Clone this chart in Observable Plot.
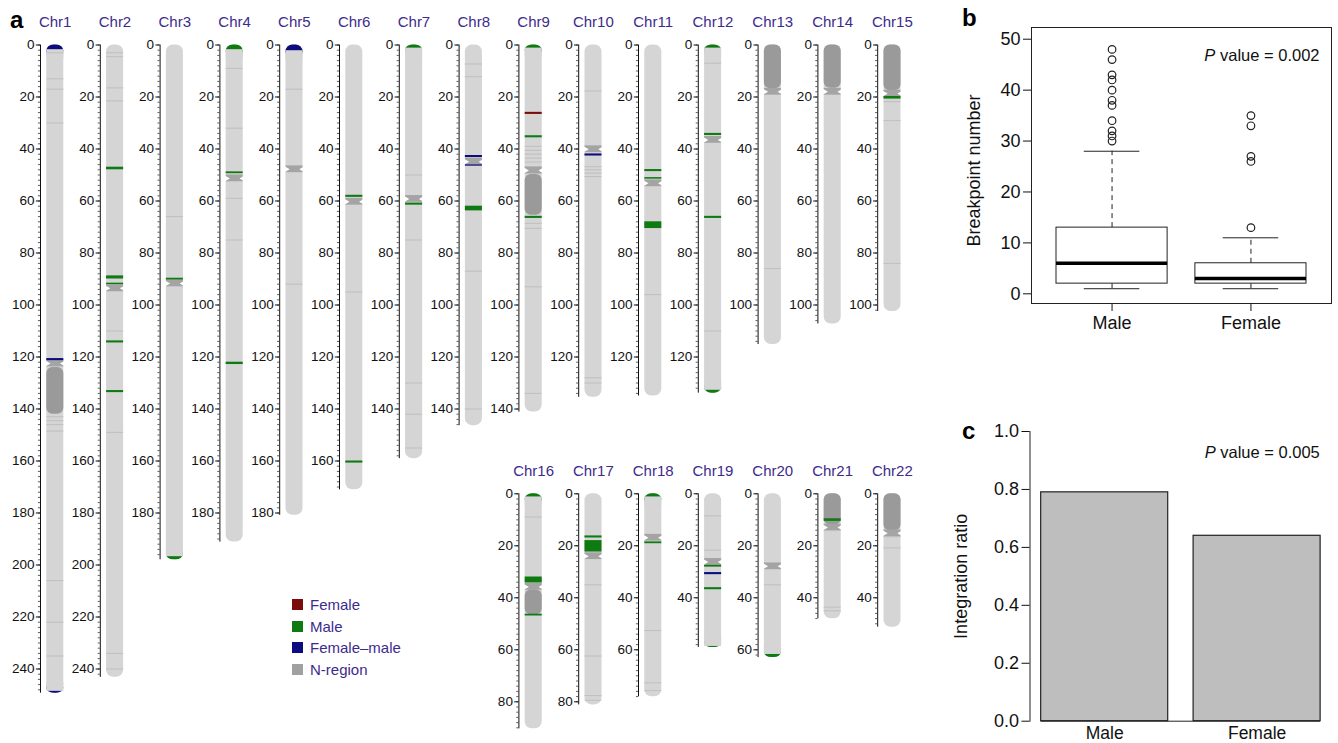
<!DOCTYPE html>
<html>
<head>
<meta charset="utf-8">
<script src="https://cdn.jsdelivr.net/npm/d3@7"></script>
<script src="https://cdn.jsdelivr.net/npm/@observablehq/plot@0.6"></script>
<style>
  html, body { margin: 0; padding: 0; background: #fff; }
  #page { position: relative; width: 1338px; height: 743px; overflow: hidden; background: #fff;
          font-family: "Liberation Sans", Arial, Helvetica, sans-serif; }
  .layer { position: absolute; }
  .layer svg { max-width: none !important; }
  .letter { position: absolute; font-weight: bold; font-size: 24px; color: #000; line-height: 1; }
  #legend { position: absolute; left: 292px; top: 594px; font-size: 15px; color: #3d2b8c; }
  #legend .row { display: flex; align-items: center; height: 21.5px; }
  #legend .sw { width: 11px; height: 11px; margin-right: 7px; }
</style>
</head>
<body>
<div id="page">
  <div class="letter" style="left:10px;top:8px;">a</div>
  <div class="letter" style="left:962px;top:6px;">b</div>
  <div class="letter" style="left:962px;top:419px;">c</div>
  <div id="legend"></div>
</div>
<script>
// ---------------- Panel a data ----------------
const chromNames = ["Chr1","Chr2","Chr3","Chr4","Chr5","Chr6","Chr7","Chr8","Chr9","Chr10","Chr11",
  "Chr12","Chr13","Chr14","Chr15","Chr16","Chr17","Chr18","Chr19","Chr20","Chr21","Chr22"];
const chromLengths = [249.3, 243.2, 198.0, 191.2, 180.9, 171.1, 159.1, 146.4, 141.2, 135.5, 135.0,
  133.9, 115.2, 107.3, 102.5, 90.4, 81.2, 78.1, 59.1, 63.0, 48.1, 51.3];
const centromeres = [122.5, 93.6, 91.7, 51.3, 47.8, 60.3, 59.2, 44.9, 48.3, 40.1, 53.2,
  36.5, 18.0, 18.0, 18.7, 35.8, 24.0, 16.9, 26.2, 27.9, 13.0, 15.2];
// N-regions (dark grey): [chromosome, start Mb, end Mb]
const nRegions = [[1,124.0,142.0],[9,49.8,65.5],[13,0,16.8],[14,0,16.6],[15,0,17.6],
  [16,37.0,46.5],[21,0,12.0],[22,0,14.2]];
// faint grey gap lines: [chromosome, Mb]
const faintLines = [[1,3],[1,13],[1,17],[1,30],[1,143],[1,144.5],[1,146],[1,148.5],[1,206],[1,222],[1,235],
  [2,3],[2,4.5],[2,16.5],[2,21.5],[2,110],[2,149],[2,234],[2,240],
  [3,66],[4,9],[4,32],[4,59],[4,75],[5,17],[5,92],[6,95],
  [7,50],[7,75],[7,130],[7,142],[7,155],[8,7.3],[8,12.2],[8,87],[8,140],
  [9,39],[9,40.5],[9,42],[9,43.5],[9,45],[9,46.8],[9,68.6],[9,70.5],[9,93],[9,134],
  [10,17.7],[10,46.8],[10,48],[10,49.3],[10,50.6],[10,128],[10,130],
  [11,96],[12,7],[12,110],[13,86],[15,21.8],[15,29.1],[15,84],
  [16,8.9],[17,35],[17,62.4],[17,77.6],[17,79.4],[18,52.6],[18,72.7],[18,75.7],
  [19,8.5],[19,21.7],[20,35],[21,43.6],[21,45],[22,16.5],[22,20.8]];
// breakpoint events: [chromosome, start Mb, end Mb, type]
const breakEvents = [
  [1,0,1.8,"Female-male"],[1,120.6,121.4,"Female-male"],[1,248.6,249.3,"Female-male"],
  [2,47.0,48.0,"Male"],[2,88.8,90.0,"Male"],[2,91.6,92.2,"Male"],[2,113.8,114.6,"Male"],[2,132.9,133.7,"Male"],
  [3,89.7,90.4,"Male"],[3,196.8,198.0,"Male"],
  [4,0,1.8,"Male"],[4,48.8,49.5,"Male"],[4,122.0,122.9,"Male"],
  [5,0,2.2,"Female-male"],
  [6,57.8,58.6,"Male"],[6,160.0,160.8,"Male"],
  [7,0,1.2,"Male"],[7,60.8,61.6,"Male"],
  [8,42.5,43.3,"Female-male"],[8,46.1,46.6,"Female-male"],[8,62.0,63.8,"Male"],
  [9,0,1.2,"Male"],[9,25.9,26.7,"Female"],[9,34.9,35.7,"Male"],[9,65.9,66.7,"Male"],
  [10,41.9,42.7,"Female-male"],
  [11,47.9,48.7,"Male"],[11,51.0,51.6,"Male"],[11,68.0,70.6,"Male"],
  [12,0,1.2,"Male"],[12,34.0,34.8,"Male"],[12,65.9,66.7,"Male"],[12,132.8,133.9,"Male"],
  [15,19.8,20.8,"Male"],
  [16,0,1.2,"Male"],[16,32.0,34.3,"Male"],[16,46.3,47.0,"Male"],
  [17,16.2,17.0,"Male"],[17,18.0,22.4,"Male"],
  [18,0,1.2,"Male"],[18,18.5,19.2,"Male"],
  [19,27.5,28.2,"Male"],[19,30.3,31.1,"Female-male"],[19,36.1,36.9,"Male"],[19,58.7,59.1,"Male"],
  [20,61.8,63.0,"Male"],
  [21,9.6,10.6,"Male"]
];
const eventTypes = ["Female","Male","Female-male"];
const eventColors = ["#7a0c0c","#0f7a12","#0c0c7e"];
const legendLabels = ["Female","Male","Female\u2013male","N-region"];
const legendColors = ["#7a0c0c","#0f7a12","#0c0c7e","#a0a0a0"];
const topRowChroms = [1,2,3,4,5,6,7,8,9,10,11,12,13,14,15];
const bottomRowChroms = [16,17,18,19,20,21,22];

// ---------------- Panel b data ----------------
const boxGroups = ["Male","Female"];
const boxLow = [1, 1];
const boxQ1 = [2, 2];
const boxMedian = [6, 3];
const boxQ3 = [13, 6];
const boxHigh = [28, 11];
const maleOutliers = [30, 31, 32, 34, 37, 38, 40, 42, 43, 46, 48];
const femaleOutliers = [13, 26, 27, 33, 35];
const pValueB = "P value = 0.002";

// ---------------- Panel c data ----------------
const barGroups = ["Male","Female"];
const barValues = [0.79, 0.64];
const pValueC = "P value = 0.005";

// ---------------- drawing ----------------
const FONT = '"Liberation Sans", Arial, Helvetica, sans-serif';
const PURPLE = "#3d2b8c";
const BODY = "#d5d5d5";
const page = document.getElementById("page");
function place(svg, left, top, w, h) {
  const d = document.createElement("div");
  d.className = "layer";
  d.style.left = left + "px"; d.style.top = top + "px";
  d.style.width = w + "px"; d.style.height = h + "px";
  d.appendChild(svg);
  page.appendChild(d);
}

const BX1 = 0.105, BX2 = 0.39, CAPX = 3; // cap rounding extension in Mb
function chromRow(list, firstCol, y0) {
  const colOf = new Map(list.map((c, k) => [c, firstCol + k]));
  const chroms = list.map(c => ({name: chromNames[c-1], len: chromLengths[c-1], cen: centromeres[c-1], col: colOf.get(c)}));
  const minor = chroms.flatMap(d => d3.range(0, d.len, 2).map(v => ({col: d.col, v})));
  const major = chroms.flatMap(d => d3.range(0, d.len + 0.001, 20).map(v => ({col: d.col, v})));
  const nreg = nRegions.filter(r => colOf.has(r[0])).map(r => ({col: colOf.get(r[0]), s: r[1], e: r[2]}));
  const faint = faintLines.filter(r => colOf.has(r[0])).map(r => ({col: colOf.get(r[0]), v: r[1]}));
  const ev = breakEvents.filter(r => colOf.has(r[0])).map(r => ({col: colOf.get(r[0]), s: r[1], e: r[2], type: r[3],
    top: r[1] === 0, bottom: r[2] >= chromLengths[r[0]-1] - 0.01}));
  const caps = ev.filter(d => d.top || d.bottom).map(d => ({...d,
    es: d.top ? d.s : d.s - CAPX, ee: d.top ? d.e + CAPX : d.e,
    cs: d.top ? d.e : d.s - CAPX - 0.5, ce: d.top ? d.e + CAPX + 0.5 : d.s}));
  const xb1 = d => d.col + BX1, xb2 = d => d.col + BX2;
  return Plot.plot({
    width: 940, height: 743, margin: 0,
    style: {background: "transparent", fontFamily: FONT, overflow: "visible"},
    x: {type: "linear", domain: [0, 1], range: [40, 99.8], axis: null},
    y: {type: "linear", domain: [0, 100], range: [y0, y0 + 260], axis: null},
    color: {domain: eventTypes, range: eventColors},
    marks: [
      Plot.ruleX(chroms, {x: "col", y1: 0, y2: "len", stroke: "#111", strokeWidth: 1}),
      Plot.ruleY(minor, {y: "v", x1: "col", x2: d => d.col - 0.035, stroke: "#333", strokeWidth: 0.8}),
      Plot.ruleY(major, {y: "v", x1: "col", x2: d => d.col - 0.07, stroke: "#111", strokeWidth: 1}),
      Plot.text(major, {x: "col", y: "v", text: d => String(d.v), textAnchor: "end", dx: -6, fontSize: 13.5, fill: "#111"}),
      Plot.rect(chroms, {x1: xb1, x2: xb2, y1: 0, y2: "len", fill: BODY, rx: 7}),
      // end caps: rounded coloured block, its inner part covered again with body colour
      Plot.rect(caps, {x1: xb1, x2: xb2, y1: "es", y2: "ee", fill: "type", rx: 7}),
      Plot.rect(caps, {x1: xb1, x2: xb2, y1: "cs", y2: "ce", fill: BODY}),
      Plot.ruleY(faint, {y: "v", x1: xb1, x2: xb2, stroke: "#bcbcbc", strokeWidth: 0.9}),
      Plot.rect(nreg, {x1: xb1, x2: xb2, y1: "s", y2: "e", fill: "#9a9a9a", rx: 6}),
      Plot.rect(chroms, {x1: xb1, x2: xb2, y1: d => d.cen - 1.3, y2: d => d.cen + 1.3, fill: "#a4a4a4"}),
      Plot.dot(chroms, {x: xb1, y: "cen", symbol: "triangle", rotate: 90, r: 2.4, fill: "white"}),
      Plot.dot(chroms, {x: xb2, y: "cen", symbol: "triangle", rotate: -90, r: 2.4, fill: "white"}),
      Plot.rect(ev.filter(d => !d.top && !d.bottom), {x1: xb1, x2: xb2, y1: "s", y2: "e", fill: "type"}),
      Plot.text(chroms, {x: d => d.col + 0.245, y: 0, dy: -23, text: "name", fill: PURPLE, fontSize: 15})
    ]
  });
}
place(chromRow(topRowChroms, 0, 44.5), 0, 0, 940, 743);
place(chromRow(bottomRowChroms, 8, 493.3), 0, 0, 940, 743);

// legend
const legend = document.getElementById("legend");
legendLabels.forEach((lab, i) => {
  const row = document.createElement("div"); row.className = "row";
  const sw = document.createElement("div"); sw.className = "sw"; sw.style.background = legendColors[i];
  const tx = document.createElement("span"); tx.textContent = lab;
  row.append(sw, tx); legend.appendChild(row);
});

function italicP(svg) {
  svg.querySelectorAll("text").forEach(t => {
    if (t.textContent.startsWith("P value")) {
      const rest = t.textContent.slice(1);
      const target = t.querySelector("tspan") || t;
      target.textContent = "";
      const ns = "http://www.w3.org/2000/svg";
      const a = document.createElementNS(ns, "tspan"); a.setAttribute("font-style", "italic"); a.textContent = "P";
      const b = document.createElementNS(ns, "tspan"); b.textContent = rest;
      target.append(a, b);
    }
  });
  return svg;
}

// Panel b: boxplot
const boxStats = boxGroups.map((g, i) => ({g: i + 1, lo: boxLow[i], q1: boxQ1[i], med: boxMedian[i], q3: boxQ3[i], hi: boxHigh[i]}));
const outliers = [...maleOutliers.map(v => ({g: 1, v})), ...femaleOutliers.map(v => ({g: 2, v}))];
const plotB = Plot.plot({
  width: 398, height: 345, marginLeft: 91, marginRight: 7, marginTop: 27, marginBottom: 42,
  style: {background: "transparent", fontFamily: FONT, fontSize: "18px", color: "#111"},
  x: {type: "linear", domain: [0.42, 2.58]},
  y: {type: "linear", domain: [-1.9, 52.3]},
  marks: [
    Plot.frame({stroke: "#222", strokeWidth: 1}),
    Plot.axisY({ticks: [0, 10, 20, 30, 40, 50], tickSize: 8, tickPadding: 3, label: null, tickFormat: d => String(d)}),
    Plot.axisX({ticks: [1, 2], tickSize: 8, tickPadding: 5, label: null, tickFormat: d => boxGroups[d - 1]}),
    Plot.ruleX(boxStats, {x: "g", y1: "q3", y2: "hi", stroke: "#222", strokeDasharray: "5,4"}),
    Plot.ruleX(boxStats, {x: "g", y1: "lo", y2: "q1", stroke: "#222", strokeDasharray: "5,4"}),
    Plot.ruleY(boxStats, {y: "hi", x1: d => d.g - 0.2, x2: d => d.g + 0.2, stroke: "#222"}),
    Plot.ruleY(boxStats, {y: "lo", x1: d => d.g - 0.2, x2: d => d.g + 0.2, stroke: "#222"}),
    Plot.rect(boxStats, {x1: d => d.g - 0.4, x2: d => d.g + 0.4, y1: "q1", y2: "q3", fill: "white", stroke: "#222"}),
    Plot.ruleY(boxStats, {y: "med", x1: d => d.g - 0.4, x2: d => d.g + 0.4, stroke: "#000", strokeWidth: 3.5}),
    Plot.dot(outliers, {x: "g", y: "v", r: 3.8, stroke: "#222", fill: "none", strokeWidth: 1.2}),
    Plot.text([pValueB], {frameAnchor: "top-right", dx: -12, dy: 22, textAnchor: "end", text: d => d, fontSize: 16.5}),
    Plot.text(["Breakpoint number"], {frameAnchor: "left", rotate: -90, textAnchor: "middle", dx: -57, dy: 5, text: d => d, fontSize: 18})
  ]
});
place(italicP(plotB), 940, 0, 398, 345);

// Panel c: bar chart
const bars = barGroups.map((g, i) => ({g, x1: 0.2 + i * 1.2, x2: 1.2 + i * 1.2, v: barValues[i]}));
const plotC = Plot.plot({
  width: 398, height: 343, marginLeft: 89.5, marginRight: 6.7, marginTop: 31, marginBottom: 22.3,
  style: {background: "transparent", fontFamily: FONT, fontSize: "18px", color: "#111", overflow: "visible"},
  x: {type: "linear", domain: [0.112, 2.488], axis: null},
  y: {type: "linear", domain: [0, 1]},
  marks: [
    Plot.frame({anchor: "left", stroke: "#222"}),
    Plot.axisY({ticks: [0, 0.2, 0.4, 0.6, 0.8, 1.0], tickSize: 8, tickPadding: 3, label: null, tickFormat: d3.format(".1f")}),
    Plot.rect(bars, {x1: "x1", x2: "x2", y1: 0, y2: "v", fill: "#bebebe", stroke: "#222", strokeWidth: 1.2}),
    Plot.ruleY([0], {x1: bars[0].x1, x2: bars[bars.length - 1].x2, stroke: "#222"}),
    Plot.text(bars, {x: d => (d.x1 + d.x2) / 2, y: 0, dy: 12.5, text: "g", fontSize: 17.5}),
    Plot.text([pValueC], {frameAnchor: "top-right", dx: -12, dy: 15, textAnchor: "end", text: d => d, fontSize: 16.5}),
    Plot.text(["Integration ratio"], {frameAnchor: "left", rotate: -90, textAnchor: "middle", dx: -69, text: d => d, fontSize: 18})
  ]
});
place(italicP(plotC), 940, 400, 398, 343);
</script>
</body>
</html>
